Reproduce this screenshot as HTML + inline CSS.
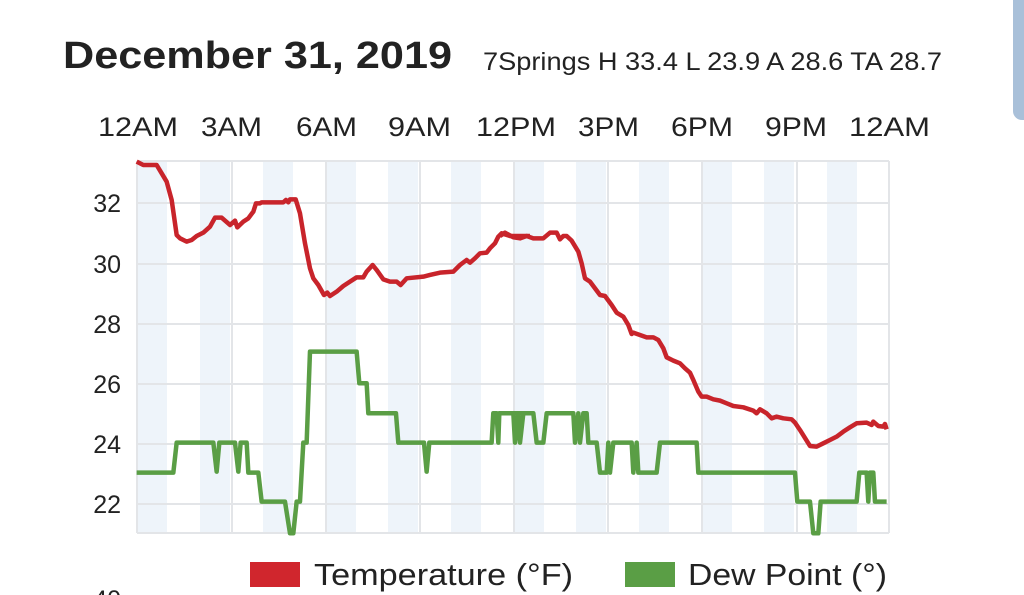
<!DOCTYPE html>
<html><head><meta charset="utf-8"><style>
html,body{margin:0;padding:0;background:#fff;width:1024px;height:595px;overflow:hidden}
svg{display:block}
text{font-family:"Liberation Sans",sans-serif}
</style></head><body>
<svg width="1024" height="595" viewBox="0 0 1024 595">
<rect x="1013" y="-10" width="20" height="130" rx="9" fill="#a9c0d9"/>
<text x="63" y="68" font-size="38" font-weight="bold" fill="#222" textLength="389" lengthAdjust="spacingAndGlyphs">December 31, 2019</text>
<text x="483" y="70" font-size="25" fill="#222" textLength="459" lengthAdjust="spacingAndGlyphs">7Springs H 33.4 L 23.9 A 28.6 TA 28.7</text>
<g font-size="27" fill="#222" lengthAdjust="spacingAndGlyphs">
<text x="98" y="136" textLength="80" lengthAdjust="spacingAndGlyphs">12AM</text>
<text x="201" y="136" textLength="61" lengthAdjust="spacingAndGlyphs">3AM</text>
<text x="296" y="136" textLength="61" lengthAdjust="spacingAndGlyphs">6AM</text>
<text x="388" y="136" textLength="63" lengthAdjust="spacingAndGlyphs">9AM</text>
<text x="476" y="136" textLength="80" lengthAdjust="spacingAndGlyphs">12PM</text>
<text x="578" y="136" textLength="61" lengthAdjust="spacingAndGlyphs">3PM</text>
<text x="671" y="136" textLength="62" lengthAdjust="spacingAndGlyphs">6PM</text>
<text x="765" y="136" textLength="62" lengthAdjust="spacingAndGlyphs">9PM</text>
<text x="849" y="136" textLength="81" lengthAdjust="spacingAndGlyphs">12AM</text>
</g>
<g fill="#eef4fa">
<rect x="137" y="161" width="30" height="372"/><rect x="200" y="161" width="30" height="372"/>
<rect x="263" y="161" width="30" height="372"/><rect x="326" y="161" width="30" height="372"/>
<rect x="388" y="161" width="30" height="372"/><rect x="451" y="161" width="30" height="372"/>
<rect x="514" y="161" width="30" height="372"/><rect x="576" y="161" width="30" height="372"/>
<rect x="639" y="161" width="30" height="372"/><rect x="702" y="161" width="30" height="372"/>
<rect x="764" y="161" width="30" height="372"/><rect x="827" y="161" width="30" height="372"/>
</g>
<g stroke="#e3e5e8" stroke-width="2" fill="none">
<line x1="137" y1="161" x2="889" y2="161"/><line x1="137" y1="203" x2="889" y2="203"/>
<line x1="137" y1="264" x2="889" y2="264"/><line x1="137" y1="324" x2="889" y2="324"/>
<line x1="137" y1="384" x2="889" y2="384"/><line x1="137" y1="444" x2="889" y2="444"/>
<line x1="137" y1="504" x2="889" y2="504"/><line x1="137" y1="533" x2="889" y2="533"/>
<line x1="137" y1="161" x2="137" y2="533"/><line x1="232" y1="161" x2="232" y2="533"/>
<line x1="326" y1="161" x2="326" y2="533"/><line x1="420" y1="161" x2="420" y2="533"/>
<line x1="514" y1="161" x2="514" y2="533"/><line x1="608" y1="161" x2="608" y2="533"/>
<line x1="702" y1="161" x2="702" y2="533"/><line x1="797" y1="161" x2="797" y2="533"/>
<line x1="889" y1="161" x2="889" y2="533"/>
</g>
<g font-size="25" fill="#222" text-anchor="end">
<text x="121" y="212">32</text><text x="121" y="273">30</text><text x="121" y="333">28</text>
<text x="121" y="393">26</text><text x="121" y="453">24</text><text x="121" y="513">22</text>
<text x="121" y="608">40</text>
</g>
<g fill="none" stroke-width="4.5" stroke-linejoin="round">
<g transform="translate(130,150) scale(0.3333)">
<polyline vector-effect="non-scaling-stroke" stroke="#c8242b" points="20,35 40,45 80,45 95,70 110,95 125,150 140,255 150,265 170,275 185,270 200,258 220,248 240,230 255,203 275,203 300,225 315,212 322,232 340,215 355,205 370,185 378,160 390,160 395,157 460,157 468,150 475,157 480,148 497,148 510,190 525,280 540,355 550,385 565,405 582,435 592,428 600,438 620,425 640,408 660,395 680,382 700,382 710,365 728,345 740,360 760,388 780,395 800,395 812,405 830,385 880,380 900,375 930,368 970,365 990,345 1010,330 1020,338 1035,325 1050,310 1070,308 1080,295 1095,280 1105,260 1115,250 1140,258 1200,258"/>
<polyline vector-effect="non-scaling-stroke" stroke="#5a9e45" points="20,968 130,968 140,878 250,878 260,965 268,878 315,878 325,965 332,878 350,878 355,968 385,968 395,1055 465,1055 480,1150 490,1150 500,1055 510,1055 520,878 530,878 540,605 680,605 688,700 710,700 715,790 798,790 805,878 882,878 890,965 898,878 1085,878 1090,790 1100,790 1105,878 1108,790 1140,790 1200,790"/>
</g>
<g transform="translate(500,150) scale(0.3333)">
<polyline vector-effect="non-scaling-stroke" stroke="#c8242b" points="0,258 15,248 40,262 60,265 80,258 100,265 130,265 150,248 170,248 180,268 190,258 200,258 215,272 235,305 245,340 255,385 270,395 300,435 315,438 335,465 350,488 370,500 385,525 395,552 400,548 420,555 440,562 460,562 475,570 490,595 500,622 520,632 540,640 555,655 570,668 580,690 595,725 605,740 620,740 640,748 660,752 680,760 700,768 730,772 760,782 770,790 780,778 800,790 815,805 830,800 850,805 875,808 885,818 900,840 930,888 950,890 970,880 990,870 1010,860 1030,845 1050,832 1070,820 1100,818 1115,825 1120,815 1135,828 1150,830 1155,822 1160,838"/>
<polyline vector-effect="non-scaling-stroke" stroke="#5a9e45" points="0,790 40,790 45,878 55,790 60,878 70,790 100,790 110,878 130,878 140,790 220,790 225,878 235,790 240,878 250,790 260,790 265,878 290,878 300,968 320,968 325,878 330,968 340,878 395,878 400,968 410,878 415,968 470,968 480,878 590,878 595,968 885,968 892,1055 930,1055 940,1150 955,1150 962,1055 1070,1055 1078,968 1100,968 1105,1055 1110,968 1120,968 1125,1055 1160,1055"/>
</g>
</g>
<rect x="250" y="562" width="50" height="25" fill="#d0262d"/>
<text x="314" y="585" font-size="31" fill="#222" textLength="259" lengthAdjust="spacingAndGlyphs">Temperature (°F)</text>
<rect x="625" y="562" width="50" height="25" fill="#5a9e45"/>
<text x="688" y="585" font-size="31" fill="#222" textLength="199" lengthAdjust="spacingAndGlyphs">Dew Point (°)</text>
</svg>
</body></html>
